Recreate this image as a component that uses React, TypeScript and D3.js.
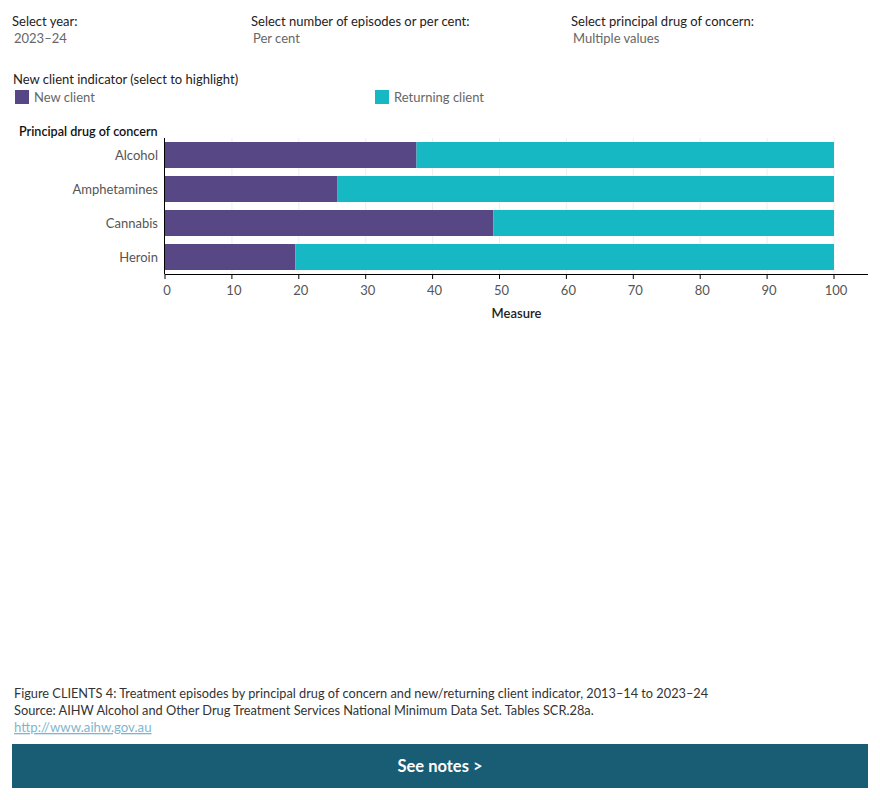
// @ts-nocheck
import React, { useEffect, useRef } from 'react';
import * as d3 from 'd3';

const drugs = ['Alcohol', 'Amphetamines', 'Cannabis', 'Heroin'];
const newClient = [37.6, 25.8, 49.1, 19.5];
const returningClient = [62.4, 74.2, 50.9, 80.5];
const seriesNames = ['New client', 'Returning client'];
const seriesColors = ['#574785', '#16b8c4'];
const xTicks = [0, 10, 20, 30, 40, 50, 60, 70, 80, 90, 100];

const FONT = 'Lato, "Noto Sans", sans-serif';

const App: React.FC = () => {
  const ref = useRef<SVGSVGElement | null>(null);

  useEffect(() => {
    const svg = d3.select(ref.current);
    svg.selectAll('*').remove();
    svg.style('font-family', FONT);

    // filters at the top
    const filters = [
      { x: 12, title: 'Select year:', value: '2023–24' },
      { x: 251, title: 'Select number of episodes or per cent:', value: 'Per cent' },
      { x: 571, title: 'Select principal drug of concern:', value: 'Multiple values' },
    ];
    filters.forEach((f) => {
      svg.append('text').attr('x', f.x).attr('y', 26).attr('font-size', 13).attr('fill', '#222').text(f.title);
      svg.append('text').attr('x', f.x + 2).attr('y', 43).attr('font-size', 13).attr('fill', '#666').text(f.value);
    });

    // legend
    svg.append('text').attr('x', 13).attr('y', 84).attr('font-size', 13).attr('fill', '#222')
      .text('New client indicator (select to highlight)');
    const legendX = [15, 375];
    seriesNames.forEach((s, i) => {
      svg.append('rect').attr('x', legendX[i]).attr('y', 90).attr('width', 14).attr('height', 14).attr('fill', seriesColors[i]);
      svg.append('text').attr('x', legendX[i] + 19).attr('y', 102).attr('font-size', 13).attr('fill', '#666').text(s);
    });

    // chart
    const x = d3.scaleLinear().domain([0, 100]).range([165, 834]);
    const y = d3.scaleBand().domain(drugs).range([138, 274]).paddingInner(0.235).paddingOuter(0.1175);
    const axisEnd = 868;

    const g = svg.append('g');

    // gridlines
    g.selectAll('line.grid').data(xTicks.slice(1)).enter().append('line')
      .attr('x1', (d) => x(d)).attr('x2', (d) => x(d))
      .attr('y1', 138).attr('y2', 274)
      .attr('stroke', '#eeeeee').attr('stroke-width', 1);

    const stacked = drugs.map((d, i) => [
      { drug: d, x0: 0, x1: newClient[i], c: seriesColors[0] },
      { drug: d, x0: newClient[i], x1: newClient[i] + returningClient[i], c: seriesColors[1] },
    ]).flat();

    g.selectAll('rect.bar').data(stacked).enter().append('rect')
      .attr('x', (d) => x(d.x0))
      .attr('width', (d) => x(d.x1) - x(d.x0))
      .attr('y', (d) => y(d.drug))
      .attr('height', y.bandwidth())
      .attr('fill', (d) => d.c);

    // axes
    g.append('line').attr('x1', x(0)).attr('x2', axisEnd).attr('y1', 274.5).attr('y2', 274.5)
      .attr('stroke', '#000').attr('stroke-width', 1);
    g.append('line').attr('x1', x(0) - 0.5).attr('x2', x(0) - 0.5).attr('y1', 138).attr('y2', 274)
      .attr('stroke', '#000').attr('stroke-width', 1);

    g.selectAll('line.tick').data(xTicks).enter().append('line')
      .attr('x1', (d) => x(d)).attr('x2', (d) => x(d))
      .attr('y1', 274).attr('y2', 279)
      .attr('stroke', '#000');

    g.selectAll('text.tick').data(xTicks).enter().append('text')
      .attr('x', (d) => x(d) + 2)
      .attr('y', 295)
      .attr('text-anchor', 'middle')
      .attr('font-size', 13)
      .attr('fill', '#555')
      .text((d) => d);

    g.append('text').attr('x', (x(0) + axisEnd) / 2).attr('y', 318).attr('text-anchor', 'middle')
      .attr('font-size', 13).attr('font-weight', 600).attr('fill', '#222').text('Measure');

    g.append('text').attr('x', 19).attr('y', 136).attr('font-size', 12.6).attr('font-weight', 600)
      .attr('fill', '#111').text('Principal drug of concern');

    g.selectAll('text.cat').data(drugs).enter().append('text')
      .attr('x', 158)
      .attr('y', (d) => y(d) + y.bandwidth() / 2)
      .attr('dy', '0.35em')
      .attr('text-anchor', 'end')
      .attr('font-size', 13)
      .attr('fill', '#555')
      .text((d) => d);

    // footer
    svg.append('text').attr('x', 14).attr('y', 698).attr('font-size', 12.75).attr('fill', '#333')
      .text('Figure CLIENTS 4: Treatment episodes by principal drug of concern and new/returning client indicator, 2013–14 to 2023–24');
    svg.append('text').attr('x', 14).attr('y', 715).attr('font-size', 12.8).attr('fill', '#333')
      .text('Source: AIHW Alcohol and Other Drug Treatment Services National Minimum Data Set. Tables SCR.28a.');
    svg.append('text').attr('x', 14).attr('y', 732).attr('font-size', 13.2).attr('fill', '#7fb6cf')
      .attr('text-decoration', 'underline').text('http://www.aihw.gov.au');

    svg.append('rect').attr('x', 12).attr('y', 744).attr('width', 856).attr('height', 44).attr('fill', '#185d73');
    svg.append('text').attr('x', 440).attr('y', 772).attr('text-anchor', 'middle').attr('font-size', 16.5)
      .attr('font-weight', 700).attr('fill', '#fff').text('See notes >');
  }, []);

  return (
    <div style={{ position: 'absolute', left: 0, top: 0 }}>
      <svg ref={ref} width={880} height={800} style={{ display: 'block', background: '#fff' }}></svg>
    </div>
  );
};

export default App;
